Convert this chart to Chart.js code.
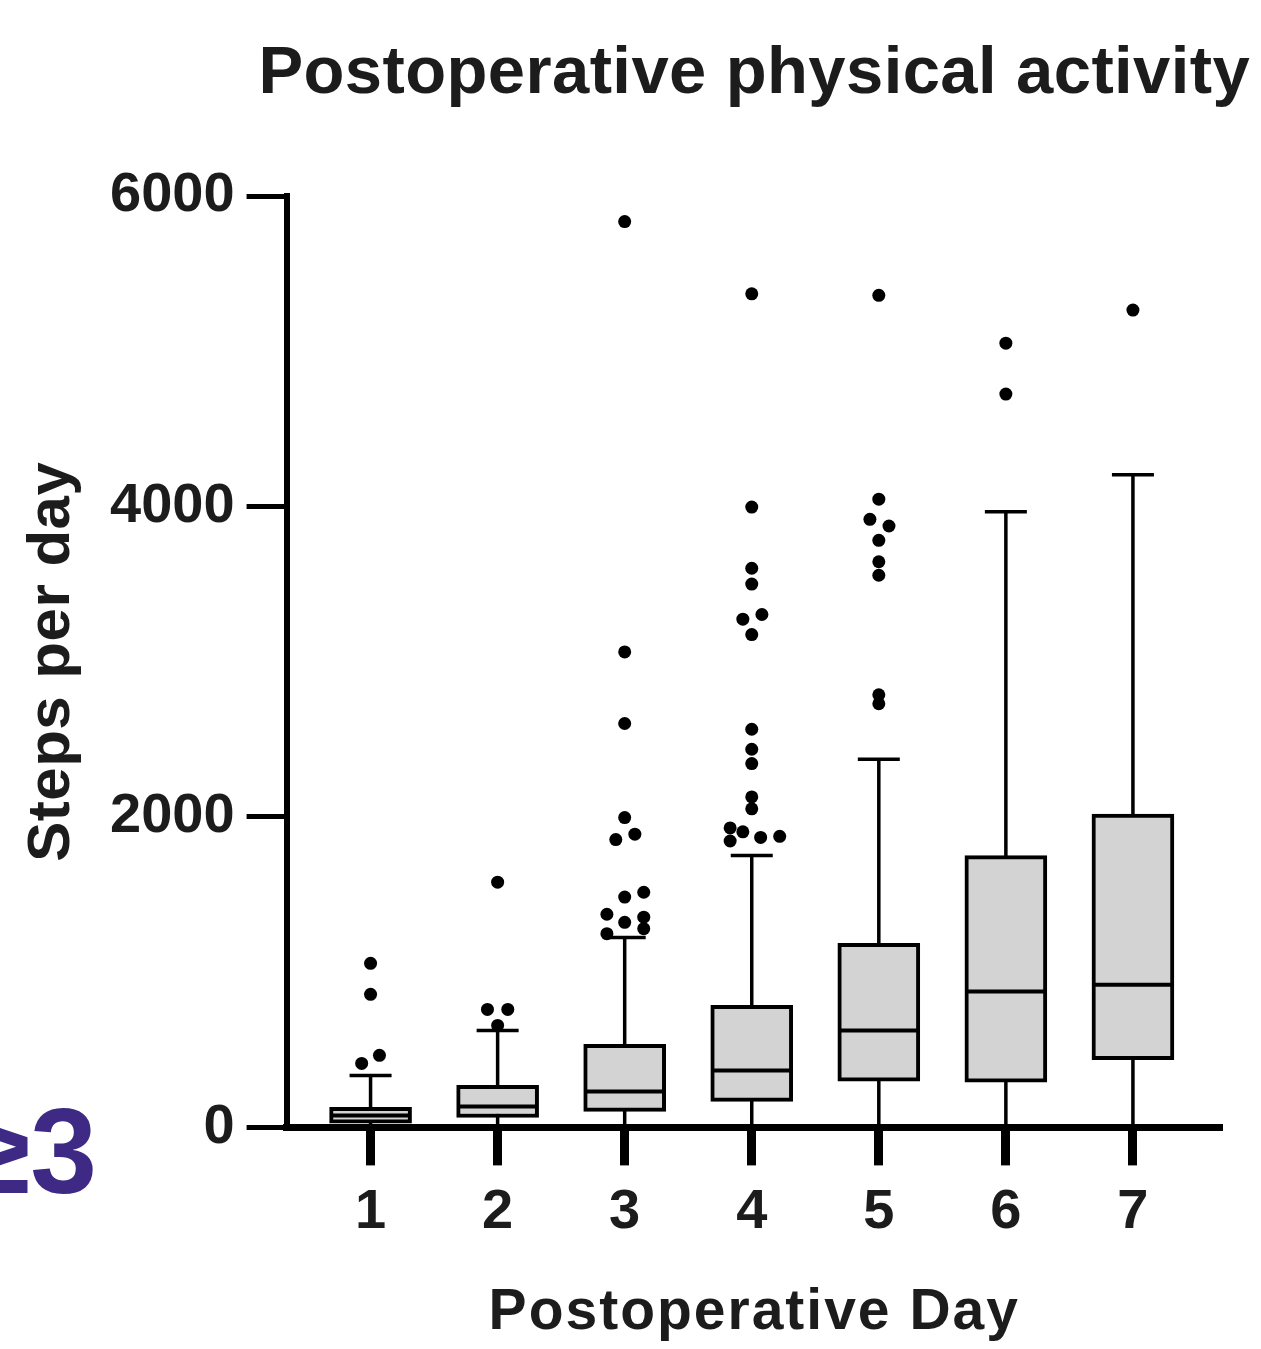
<!DOCTYPE html>
<html>
<head>
<meta charset="utf-8">
<title>Postoperative physical activity</title>
<script src="https://cdn.jsdelivr.net/npm/chart.js@4.4.1/dist/chart.umd.min.js"></script>
<style>
  html, body { margin: 0; padding: 0; background: #fff; }
  #wrap { position: relative; width: 1261px; height: 1349px; overflow: hidden; }
  #grade {
    position: absolute; left: -45px; top: 1091px; width: 142px;
    text-align: right; white-space: nowrap;
    font: bold 120px 'Liberation Sans', Arial, sans-serif; line-height: 120px;
    color: #3e2a84;
  }
</style>
</head>
<body>
<div id="wrap">
  <canvas id="chart" width="1261" height="1349"></canvas>
  <div id="grade">≥3</div>
</div>
<script>
// ==================== DATOS ====================
const chartTitle = 'Postoperative physical activity';
const days = [1, 2, 3, 4, 5, 6, 7];
const yTicks = [0, 2000, 4000, 6000];

// caja: whisker inferior, Q1, mediana, Q3, whisker superior
const lowerWhisker = [0, 0, 0, 0, 0, 0, 0];
const q1           = [28, 64, 103, 168, 298, 292, 436];
const medians      = [77, 135, 232, 367, 625, 876, 919];
const q3           = [130, 271, 535, 786, 1185, 1751, 2018];
const upperWhisker = [335, 625, 1224, 1752, 2372, 3966, 4204];

// outliers (día con leve dispersión, pasos)
const outlierDays = [
  0.93, 1.07, 1, 1,
  2, 1.92, 2.08, 2,
  2.86, 3.15, 3, 3.15, 2.86, 3, 3.15, 2.93, 3.08, 3, 3, 3, 3,
  3.83, 4.07, 4.22, 3.93, 3.83, 4, 4, 4, 4, 4, 4, 3.93, 4.08, 4, 4, 4, 4,
  5, 5, 5, 5, 5, 5.08, 4.93, 5, 5,
  6, 6,
  7
];
const outlierSteps = [
  412, 464, 857, 1057,
  657, 760, 760, 1580,
  1248, 1280, 1321, 1354, 1373, 1484, 1515, 1854, 1889, 1996, 2602, 3063, 5835,
  1845, 1868, 1875, 1904, 1929, 2052, 2129, 2344, 2436, 2565, 3175, 3274, 3304, 3500, 3602, 3996, 5370,
  2729, 2787, 3557, 3644, 3782, 3874, 3917, 4047, 5360,
  4724, 5052,
  5265
];

const FONT = "'Liberation Sans', Arial, sans-serif";
const TEXT_COLOR = '#1c1c1c';

Chart.defaults.font.family = FONT;
Chart.defaults.color = TEXT_COLOR;

// ==================== WHISKERS Y MEDIANAS ====================
const boxExtras = {
  id: 'boxExtras',
  beforeDatasetsDraw(chart) {
    const { ctx, scales: { x, y } } = chart;
    ctx.save();
    ctx.strokeStyle = '#000';
    ctx.lineWidth = 3.5;
    days.forEach((d, i) => {
      const px = x.getPixelForValue(d);
      const yLo = y.getPixelForValue(lowerWhisker[i]);
      const yHi = y.getPixelForValue(upperWhisker[i]);
      ctx.beginPath();
      ctx.moveTo(px, yLo);
      ctx.lineTo(px, yHi);
      ctx.moveTo(px - 21, yHi);
      ctx.lineTo(px + 21, yHi);
      ctx.moveTo(px - 21, yLo);
      ctx.lineTo(px + 21, yLo);
      ctx.stroke();
    });
    ctx.restore();
  },
  afterDatasetDraw(chart, args) {
    if (args.meta.type !== 'bar') return;
    const { ctx, scales: { y } } = chart;
    ctx.save();
    ctx.strokeStyle = '#000';
    ctx.lineWidth = 4;
    args.meta.data.forEach((bar, i) => {
      const py = y.getPixelForValue(medians[i]);
      ctx.beginPath();
      ctx.moveTo(bar.x - bar.width / 2 + 2, py);
      ctx.lineTo(bar.x + bar.width / 2 - 2, py);
      ctx.stroke();
    });
    ctx.restore();
  }
};

// ==================== TÍTULO Y ESPACIADO DE TEXTO ====================
// título centrado sobre el área del gráfico (sin compresión por maxWidth)
const plotTitle = {
  id: 'plotTitle',
  afterDraw(chart) {
    const { ctx, chartArea } = chart;
    ctx.save();
    ctx.font = `bold 67px ${FONT}`;
    ctx.letterSpacing = '0.4px';
    ctx.fillStyle = TEXT_COLOR;
    ctx.textAlign = 'center';
    ctx.textBaseline = 'alphabetic';
    ctx.fillText(chartTitle, (chartArea.left + chartArea.right) / 2, chartArea.top - 103);
    ctx.restore();
  }
};

// tracking de los títulos de ejes
const axisTitleSpacing = {
  id: 'axisTitleSpacing',
  afterLayout(chart) {
    const spacing = { x: '2px', y: '0.5px' };
    Object.keys(spacing).forEach(id => {
      const scale = chart.scales[id];
      if (!scale || scale._spacedTitle) return;
      const orig = scale.drawTitle;
      scale.drawTitle = function (...args) {
        this.ctx.save();
        this.ctx.letterSpacing = spacing[id];
        orig.apply(this, args);
        this.ctx.restore();
      };
      scale._spacedTitle = true;
    });
  }
};

// ==================== GRÁFICO ====================
new Chart(document.getElementById('chart'), {
  type: 'bar',
  data: {
    datasets: [
      {
        type: 'scatter',
        label: 'Outliers',
        data: outlierDays.map((d, i) => ({ x: d, y: outlierSteps[i] })),
        backgroundColor: '#000',
        borderWidth: 0,
        pointRadius: 6.5
      },
      {
        type: 'bar',
        label: 'IQR',
        data: days.map((d, i) => ({ x: d, y: [q1[i], q3[i]] })),
        backgroundColor: '#d3d3d3',
        borderColor: '#000',
        borderWidth: 4,
        borderSkipped: false,
        barThickness: 82
      }
    ]
  },
  options: {
    responsive: false,
    animation: false,
    events: [],
    layout: { padding: { left: 4, right: 39, top: 196, bottom: 0 } },
    plugins: {
      legend: { display: false },
      tooltip: { enabled: false },
      title: { display: false }
    },
    scales: {
      x: {
        type: 'linear',
        min: 0.339,
        max: 7.701,
        offset: false,
        afterBuildTicks: (scale) => { scale.ticks = days.map(v => ({ value: v })); },
        ticks: {
          font: { size: 56, weight: 'bold' },
          color: TEXT_COLOR,
          padding: 14,
          maxRotation: 0,
          callback: (v) => String(v)
        },
        grid: { offset: false, drawOnChartArea: false, tickLength: 38, tickWidth: 9, tickColor: '#000' },
        border: { display: true, color: '#000', width: 7 },
        title: {
          display: true,
          text: 'Postoperative Day',
          color: TEXT_COLOR,
          font: { size: 57, weight: 'bold' },
          padding: { top: 18, bottom: 2 }
        }
      },
      y: {
        type: 'linear',
        min: 0,
        max: 6000,
        afterBuildTicks: (scale) => { scale.ticks = yTicks.map(v => ({ value: v })); },
        ticks: {
          font: { size: 56, weight: 'bold' },
          color: TEXT_COLOR,
          padding: 12,
          callback: (v) => String(v)
        },
        grid: { drawOnChartArea: false, tickLength: 40, tickWidth: 5, tickColor: '#000' },
        border: { display: true, color: '#000', width: 6 },
        title: {
          display: true,
          text: 'Steps per day',
          color: TEXT_COLOR,
          font: { size: 60, weight: 'bold' },
          padding: { top: 12, bottom: 10 }
        }
      }
    }
  },
  plugins: [boxExtras, plotTitle, axisTitleSpacing]
});
</script>
</body>
</html>
